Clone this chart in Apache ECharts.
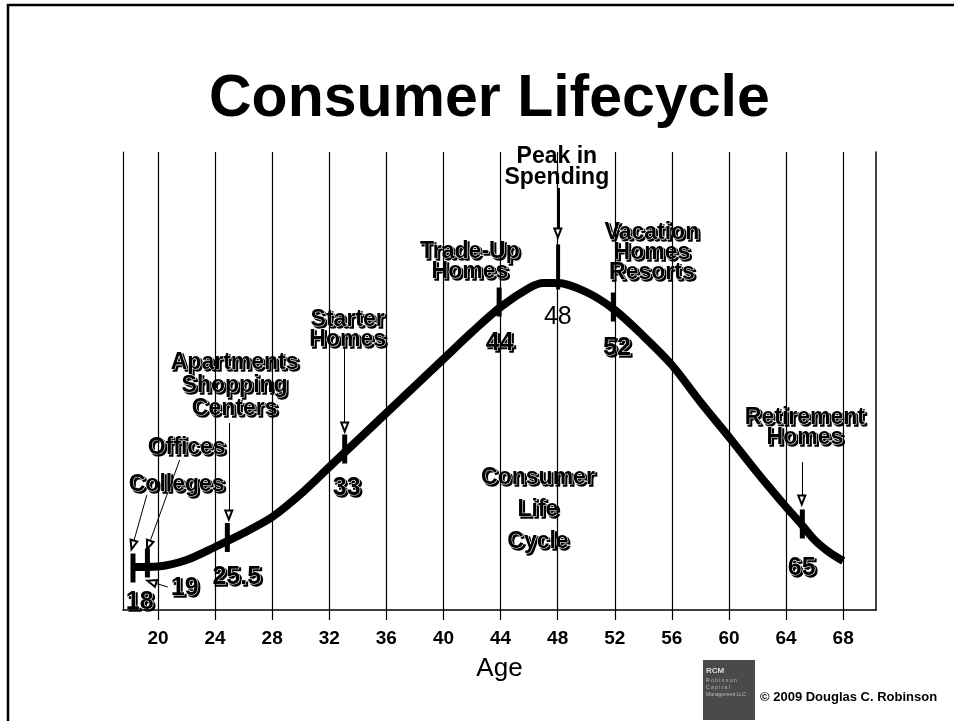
<!DOCTYPE html>
<html>
<head>
<meta charset="utf-8">
<title>Consumer Lifecycle</title>
<script src="https://cdn.jsdelivr.net/npm/echarts@6/dist/echarts.min.js"></script>
<style>
  html, body { margin: 0; padding: 0; background: #fff; }
  #chart { width: 954px; height: 721px; }
</style>
</head>
<body>
<div id="chart"></div>
<script>
// spending curve (age -> relative spending level)
const ages = [18.25, 20, 22, 24, 26, 28, 30, 32, 34, 36, 38, 40, 42, 44, 46, 47, 48, 50, 52, 54, 56, 58, 60, 62, 64, 65, 66, 67, 68];
const spending = [43, 43.5, 50, 63, 77, 93, 116, 143, 170, 197, 224, 251, 278, 303, 322, 327, 327, 318, 300, 274, 245, 208, 173, 137, 103, 87, 70, 58, 49];

// axis ticks
const tickAges = [20, 24, 28, 32, 36, 40, 44, 48, 52, 56, 60, 64, 68];

// milestone bars on the curve
const markerAges = [18.25, 19.26, 24.86, 33.08, 43.9, 48.03, 51.9, 65.14];
const markerLevels = [42, 47, 72.5, 161, 308, 343, 303, 86];

// text annotations: [age, level, text]
const embossedNotes = [
  [21.31, 125, 'Colleges'],
  [22.01, 162, 'Offices'],
  [25.37, 224, 'Apartments\nShopping\nCenters'],
  [33.29, 280, 'Starter\nHomes'],
  [41.85, 348, 'Trade-Up\nHomes'],
  [54.6, 357, 'Vacation\nHomes\nResorts'],
  [46.62, 100, 'Consumer\nLife\nCycle'],
  [65.32, 182, 'Retirement\nHomes']
];
const ageNotes = [
  [43.94, 267, '44'],
  [52.15, 262, '52'],
  [33.22, 122, '33'],
  [25.52, 33, '25.5'],
  [21.87, 22, '19'],
  [18.72, 8, '18'],
  [65.1, 42, '65']
];
const plainNotes = [
  [47.94, 443, 'Peak in\nSpending'],
  [48.01, 293, '48']
];

// arrows: [fromAge, fromLevel, toAge, toLevel]
const arrows = [
  [19.22, 115, 18.23, 65],
  [21.52, 150, 19.35, 65],
  [20.68, 23, 19.56, 28],
  [24.96, 187, 24.96, 95],
  [33.08, 262, 33.08, 183],
  [65.1, 148, 65.1, 110]
];
const peakArrow = [48.01, 422, 48.01, 377];

const FONT = "'Liberation Sans', Arial, sans-serif";

const chart = echarts.init(document.getElementById('chart'));

// a few labels need their own line spacing
const lineHeights = { 'Apartments\nShopping\nCenters': 23, 'Consumer\nLife\nCycle': 32 };

const noteItem = n => {
  const item = { value: [n[0], n[1]], name: n[2] };
  if (lineHeights[n[2]]) item.label = { lineHeight: lineHeights[n[2]] };
  return item;
};

// white boxes behind the notes, so the age lines break around them
const boxLayer = (name, notes, size, lh, pad) => ({
  name: name,
  type: 'scatter',
  z: 3,
  symbolSize: 0,
  silent: true,
  itemStyle: { opacity: 1 },
  data: notes.map(noteItem),
  label: {
    show: true, position: 'inside', formatter: '{b}', align: 'center', verticalAlign: 'middle',
    fontFamily: FONT, fontWeight: 'bold', fontSize: size, lineHeight: lh,
    color: 'rgba(0,0,0,0)', backgroundColor: '#fff', padding: pad
  },
  labelLayout: { hideOverlap: false }
});

const baseGraphic = [
  {
    type: 'rect', silent: true,
    shape: { x: 8, y: 5, width: 1000, height: 1000 },
    style: { fill: 'none', stroke: '#000', lineWidth: 2.5 }
  },
  {
    type: 'rect', silent: true,
    shape: { x: 703, y: 660, width: 52, height: 60 },
    style: { fill: '#4a4a4a' }
  },
  {
    type: 'text', silent: true, left: 706, top: 667,
    style: { text: 'RCM', fill: '#ddd', font: "bold 8px " + FONT }
  },
  {
    type: 'text', silent: true, left: 706, top: 677,
    style: { text: 'R o b i n s o n\nC a p i t a l\nManagement LLC', fill: '#bbb', font: "5px " + FONT, lineHeight: 7 }
  },
  {
    type: 'text', silent: true, left: 760, top: 691,
    style: { text: '\u00a9 2009 Douglas C. Robinson', fill: '#000', font: "bold 13px " + FONT }
  }
];

const option = {
  animation: false,
  backgroundColor: '#fff',
  title: {
    text: 'Consumer Lifecycle',
    left: 204,
    top: 65,
    textStyle: { fontFamily: FONT, fontWeight: 'bold', fontSize: 59, color: '#000' }
  },
  grid: { left: 123, right: 78, top: 152, bottom: 111 },
  xAxis: {
    type: 'value',
    min: 17.55,
    max: 70.3,
    name: 'Age',
    nameLocation: 'middle',
    nameGap: 46,
    nameTextStyle: { fontFamily: FONT, fontSize: 26, color: '#000' },
    axisLine: { show: true, lineStyle: { color: '#000', width: 1.5 } },
    axisTick: { show: true, customValues: tickAges, length: 10, lineStyle: { color: '#000', width: 1.2 } },
    axisLabel: {
      customValues: tickAges,
      margin: 19,
      fontFamily: FONT, fontWeight: 'bold', fontSize: 19, color: '#000'
    },
    splitLine: { show: false },
    z: 10
  },
  yAxis: [
    {
      type: 'value', min: 0, max: 458, position: 'left',
      axisLine: { show: true, lineStyle: { color: '#000', width: 1.2 } },
      axisTick: { show: false }, axisLabel: { show: false }, splitLine: { show: false },
      z: 10
    },
    {
      type: 'value', min: 0, max: 458, position: 'right',
      axisLine: { show: true, lineStyle: { color: '#000', width: 1.5 } },
      axisTick: { show: false }, axisLabel: { show: false }, splitLine: { show: false },
      z: 10
    }
  ],
  series: [
    {
      // vertical age lines
      type: 'line',
      data: [],
      z: 1,
      silent: true,
      markLine: {
        silent: true,
        symbol: 'none',
        label: { show: false },
        lineStyle: { color: '#000', width: 1.2, type: 'solid' },
        data: tickAges.map(a => ({ xAxis: a }))
      }
    },
    boxLayer('noteBoxes', embossedNotes, 23, 20, [6, 5]),
    boxLayer('ageBoxes', ageNotes, 25, 24, [3, 4]),
    {
      name: 'plain',
      type: 'scatter',
      z: 3,
      symbolSize: 0,
      silent: true,
      itemStyle: { opacity: 1 },
      data: [
        { value: [plainNotes[0][0], plainNotes[0][1]], name: plainNotes[0][2] },
        { value: [plainNotes[1][0], plainNotes[1][1]], name: plainNotes[1][2],
          label: { fontWeight: 'normal', fontSize: 25, padding: [2, 4] } }
      ],
      label: {
        show: true, position: 'inside', formatter: '{b}', align: 'center', verticalAlign: 'middle',
        fontFamily: FONT, fontWeight: 'bold', fontSize: 23, lineHeight: 21, color: '#000',
        backgroundColor: '#fff', padding: [6, 14]
      }
    },
    {
      name: 'spending',
      type: 'line',
      z: 5,
      data: ages.map((a, i) => [a, spending[i]]),
      smooth: 0.3,
      showSymbol: false,
      lineStyle: { color: '#000', width: 8, cap: 'butt' }
    },
    {
      name: 'milestones',
      type: 'scatter',
      z: 6,
      symbol: 'rect',
      symbolSize: (v, p) => (p.dataIndex === 5 ? [4, 45] : [5, 29]),
      itemStyle: { color: '#000', opacity: 1 },
      data: markerAges.map((a, i) => [a, markerLevels[i]])
    },
    {
      name: 'arrows',
      type: 'line',
      data: [],
      z: 6,
      markLine: {
        silent: true,
        symbol: ['none', 'emptyTriangle'],
        symbolSize: [7, 9],
        label: { show: false },
        lineStyle: { color: '#000', width: 1, type: 'solid' },
        data: arrows.map(r => [{ coord: [r[0], r[1]] }, { coord: [r[2], r[3]] }])
          .concat([[
            { coord: [peakArrow[0], peakArrow[1]], lineStyle: { width: 3 } },
            { coord: [peakArrow[2], peakArrow[3]] }
          ]])
      }
    }
  ],
  graphic: baseGraphic
};

chart.setOption(option);

// embossed text: a black copy shifted down-right, then the text with a white rim on top
const embossText = (notes, size) => {
  const out = [];
  notes.forEach(n => {
    const p = chart.convertToPixel({ gridIndex: 0 }, [n[0], n[1]]);
    const common = {
      text: n[2],
      font: 'bold ' + size + 'px ' + FONT,
      align: 'center',
      verticalAlign: 'middle',
      lineHeight: lineHeights[n[2]] || (size > 24 ? 24 : 20)
    };
    out.push({
      type: 'text', silent: true, z: 4, x: p[0] + 2, y: p[1] + 2,
      style: Object.assign({ fill: '#000', stroke: '#000', lineWidth: 1.4 }, common)
    });
    out.push({
      type: 'text', silent: true, z: 4, z2: 10, x: p[0], y: p[1],
      style: Object.assign({ fill: '#000', stroke: '#fff', lineWidth: 1.2 }, common)
    });
  });
  return out;
};

chart.setOption({
  graphic: baseGraphic.concat(embossText(embossedNotes, 23), embossText(ageNotes, 25))
});
</script>
</body>
</html>
